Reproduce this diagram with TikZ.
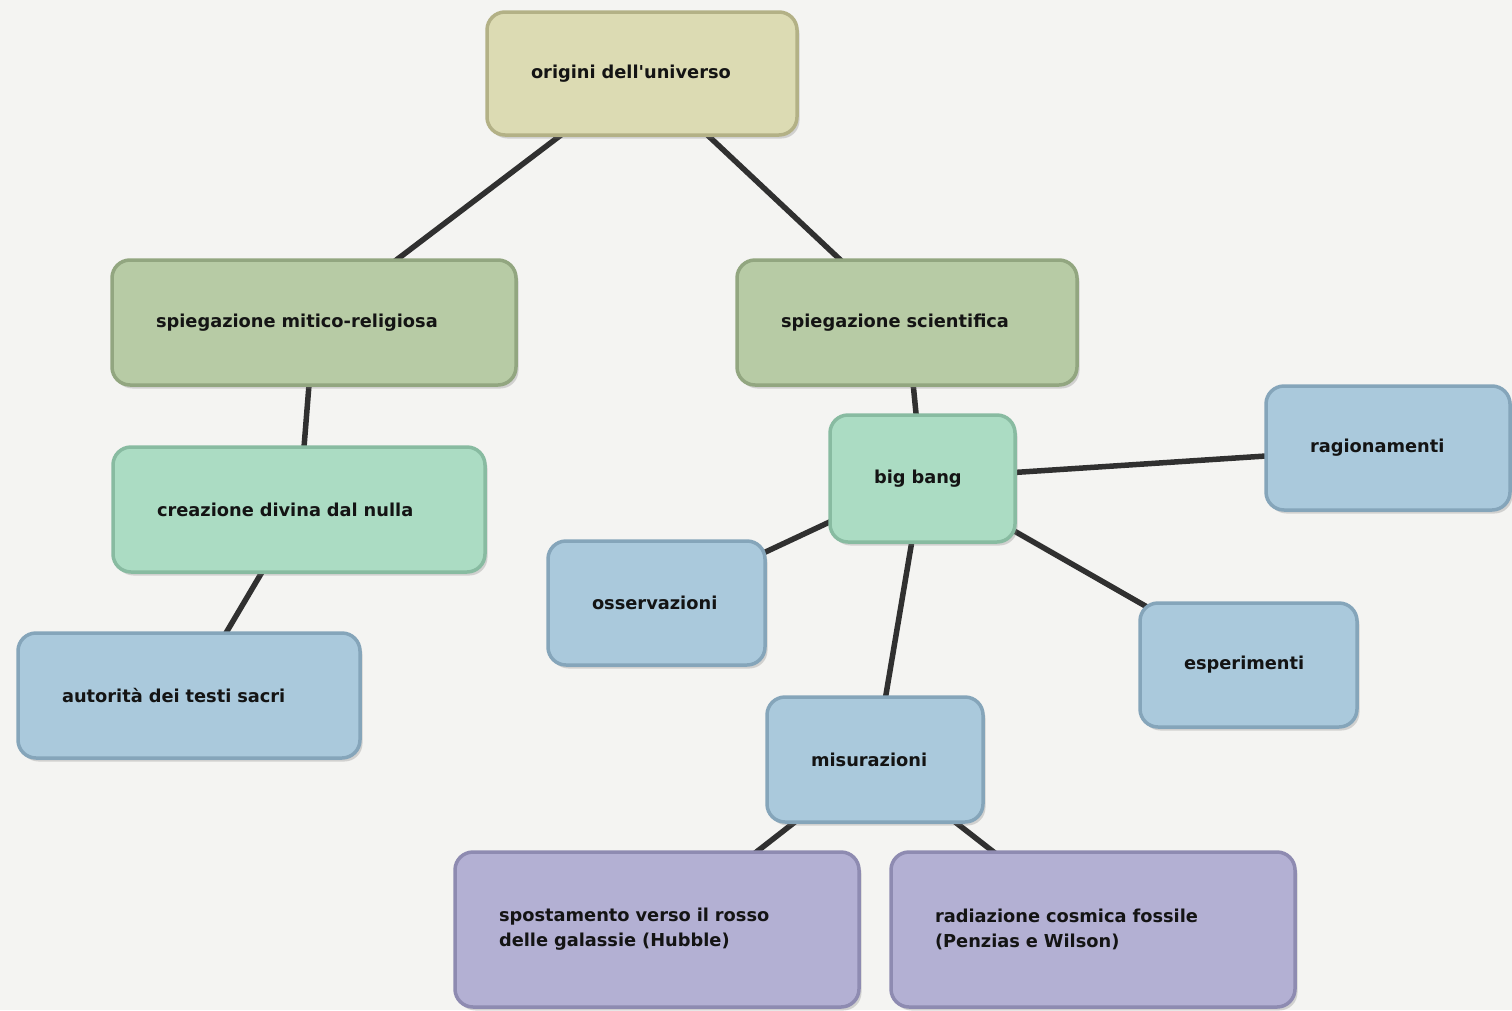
\documentclass[tikz,border=0pt]{standalone}
\usepackage{fontspec}
\setmainfont{DejaVu Sans}
\usetikzlibrary{shadows,backgrounds}
\definecolor{bgc}{HTML}{F4F4F2}
\definecolor{edgec}{HTML}{303030}
\definecolor{txtc}{HTML}{141414}
\definecolor{khakiF}{HTML}{DCDBB3}\definecolor{khakiD}{HTML}{B3B186}
\definecolor{greenF}{HTML}{B7CBA5}\definecolor{greenD}{HTML}{92A680}
\definecolor{mintF}{HTML}{ABDCC3}\definecolor{mintD}{HTML}{88BBA1}
\definecolor{blueF}{HTML}{AAC9DC}\definecolor{blueD}{HTML}{85A5BA}
\definecolor{purpF}{HTML}{B3B0D3}\definecolor{purpD}{HTML}{8E8BB1}
\pgfdeclarelayer{edgelayer}
\pgfsetlayers{background,edgelayer,main}
\tikzset{
  conbox/.style={rectangle, rounded corners=18pt, line width=3.5pt,
    inner xsep=44pt, inner ysep=0pt, align=left, text=txtc,
    font=\bfseries\fontsize{17.8}{25}\selectfont,
    drop shadow={opacity=0.3, shadow xshift=2.5pt, shadow yshift=-3.5pt}},
  khaki/.style={conbox, fill=khakiF, draw=khakiD},
  greenb/.style={conbox, fill=greenF, draw=greenD},
  mintb/.style={conbox, fill=mintF, draw=mintD},
  blueb/.style={conbox, fill=blueF, draw=blueD},
  purpb/.style={conbox, fill=purpF, draw=purpD},
  conn/.style={draw=edgec, line width=5.5pt}
}
\begin{document}
\begin{tikzpicture}[x=1pt,y=-1pt]
\useasboundingbox (0,0) rectangle (1512,1010);
\begin{pgfonlayer}{background}
\fill[bgc] (0,0) rectangle (1512,1010);
\end{pgfonlayer}

\node[khaki, minimum width=310pt, minimum height=123pt, text width=222pt] (orig) at (642,73.5) {\mbox{origini dell\textquotesingle universo}};
\node[greenb, minimum width=404pt, minimum height=125pt, text width=316pt] (mit) at (314,322.5) {\mbox{spiegazione mitico-religiosa}};
\node[greenb, minimum width=340pt, minimum height=125pt, text width=252pt] (sci) at (907,322.5) {\mbox{spiegazione scientifica}};
\node[mintb, minimum width=372pt, minimum height=125pt, text width=284pt] (crea) at (299,509.5) {\mbox{creazione divina dal nulla}};
\node[blueb, minimum width=342pt, minimum height=125pt, text width=254pt] (aut) at (189,695.5) {\mbox{autorità dei testi sacri}};
\node[mintb, minimum width=185pt, minimum height=127pt, text width=97pt] (bb) at (922.5,478.5) {\mbox{big bang}};
\node[blueb, minimum width=244pt, minimum height=124pt, text width=156pt] (rag) at (1388,448) {\mbox{ragionamenti}};
\node[blueb, minimum width=217pt, minimum height=124pt, text width=129pt] (oss) at (656.5,603) {\mbox{osservazioni}};
\node[blueb, minimum width=217pt, minimum height=124pt, text width=129pt] (esp) at (1248.5,665) {\mbox{esperimenti}};
\node[blueb, minimum width=216pt, minimum height=125pt, text width=128pt] (mis) at (875,759.5) {\mbox{misurazioni}};
\node[purpb, minimum width=404pt, minimum height=155pt, text width=316pt] (spo) at (657,929.5) {\mbox{spostamento verso il rosso}\\\mbox{delle galassie (Hubble)}};
\node[purpb, minimum width=404pt, minimum height=155pt, text width=316pt] (rad) at (1093,929.5) {\mbox{radiazione cosmica fossile}\\\mbox{(Penzias e Wilson)}};

\begin{pgfonlayer}{edgelayer}
\draw[conn] (orig.center) -- (mit.center);
\draw[conn] (orig.center) -- (sci.center);
\draw[conn] (mit.center) -- (crea.center);
\draw[conn] (crea.center) -- (aut.center);
\draw[conn] (sci.center) -- (bb.center);
\draw[conn] (bb.center) -- (rag.center);
\draw[conn] (bb.center) -- (oss.center);
\draw[conn] (bb.center) -- (mis.center);
\draw[conn] (bb.center) -- (esp.center);
\draw[conn] (mis.center) -- (spo.center);
\draw[conn] (mis.center) -- (rad.center);
\end{pgfonlayer}
\end{tikzpicture}
\end{document}
